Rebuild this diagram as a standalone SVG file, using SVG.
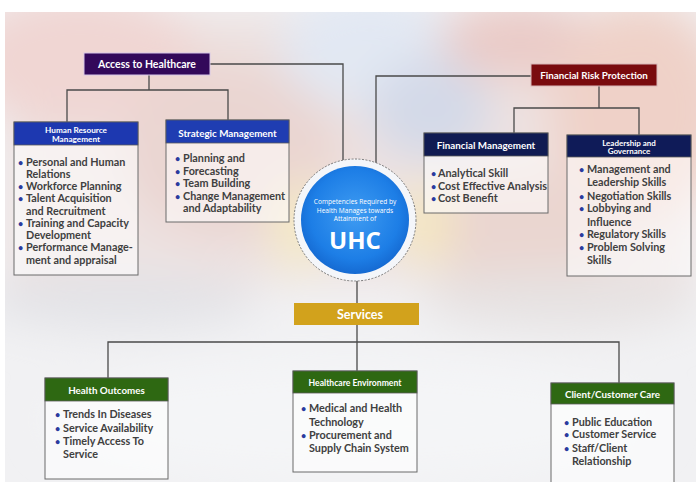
<svg xmlns="http://www.w3.org/2000/svg" width="696" height="482" viewBox="0 0 696 482">
  <defs>
    <filter id="soft" x="-20%" y="-20%" width="140%" height="140%">
      <feGaussianBlur stdDeviation="22"/>
    </filter>
    <radialGradient id="blueDisc" cx="50%" cy="45%" r="55%">
      <stop offset="0" stop-color="#3f9cf2"/>
      <stop offset="0.75" stop-color="#1d7ee6"/>
      <stop offset="1" stop-color="#156ad2"/>
    </radialGradient>
    <clipPath id="photo">
      <rect x="5" y="12" width="691" height="470"/>
    </clipPath>
    <style>
      .conn { fill: none; stroke: #4a4a4a; stroke-width: 1.3; }
      .body { fill: #ffffff; fill-opacity: 0.55; stroke: #6a6a6a; stroke-width: 1; }
      .hd { stroke: #5a5a5a; stroke-width: 0.8; }
      .ht { font-family: Lato, "Liberation Sans", sans-serif; font-weight: 700; fill: #ffffff; text-anchor: middle; }
      .it { font-family: Lato, "Liberation Sans", sans-serif; font-weight: 700; font-size: 10.8px; fill: #404040; }
      .bl { font-family: Lato, "Liberation Sans", sans-serif; font-weight: 700; font-size: 9px; fill: #2c3a9e; }
      .uhc { font-family: "Open Sans", "Liberation Sans", sans-serif; fill: #ffffff; text-anchor: middle; }
    </style>
  </defs>

  <!-- page -->
  <rect x="0" y="0" width="696" height="482" fill="#ffffff"/>

  <!-- blurred photographic backdrop -->
  <g clip-path="url(#photo)">
    <rect x="5" y="12" width="691" height="470" fill="#f1f1f3"/>
    <g filter="url(#soft)">
      <rect x="5" y="12" width="691" height="270" fill="#ede2e1"/>
      <ellipse cx="80" cy="60" rx="120" ry="70" fill="#f0d6d3"/>
      <ellipse cx="230" cy="150" rx="110" ry="90" fill="#ead5d1"/>
      <ellipse cx="370" cy="50" rx="90" ry="60" fill="#e2e8f3"/>
      <ellipse cx="430" cy="110" rx="60" ry="50" fill="#d3d9e8"/>
      <ellipse cx="520" cy="40" rx="80" ry="40" fill="#eacbc7"/>
      <ellipse cx="640" cy="110" rx="90" ry="110" fill="#efd1c8"/>
      <ellipse cx="520" cy="230" rx="90" ry="60" fill="#ead6d0"/>
      <ellipse cx="300" cy="225" rx="28" ry="45" fill="#f6ebc4"/>
      <ellipse cx="425" cy="225" rx="25" ry="40" fill="#f6e8bc"/>
      <ellipse cx="120" cy="300" rx="140" ry="30" fill="#e3e3e7"/>
      <ellipse cx="560" cy="300" rx="140" ry="30" fill="#e6e2e2"/>
      <ellipse cx="350" cy="420" rx="300" ry="60" fill="#f4f5f7"/>
    </g>
  </g>

  <!-- connectors -->
  <g id="connectors">
    <path class="conn" d="M210 64 H343 V160"/>
    <path class="conn" d="M531 76 H376 V163"/>
    <path class="conn" d="M149 75 V90 M67 122 V90 H228 V120"/>
    <path class="conn" d="M599 86 V108 M514 133 V108 H639 V135"/>
    <path class="conn" d="M357 281 V371 M108 378 V342 H619 V383"/>
  </g>

  <!-- centre hub -->
  <g id="uhc">
    <circle cx="355" cy="220" r="61" fill="#f4f6fa" stroke="#7a7a7a" stroke-width="1" stroke-dasharray="2 1.5"/>
    <circle cx="355" cy="220" r="54" fill="url(#blueDisc)"/>
    <text class="uhc" x="355" y="204" font-size="6.6">Competencies Required by</text>
    <text class="uhc" x="355" y="212.5" font-size="6.6">Health Manages towards</text>
    <text class="uhc" x="355" y="221" font-size="6.6">Attainment of</text>
    <text class="uhc" x="355" y="249" font-size="24" font-weight="700">UHC</text>
  </g>

  <!-- top-level headings -->
  <g id="access-to-healthcare">
    <rect x="84" y="53" width="126" height="22" fill="#33095a" stroke="#d8c8e8" stroke-width="1"/>
    <text class="ht" x="147" y="68" font-size="10.5">Access to Healthcare</text>
  </g>
  <g id="financial-risk-protection">
    <rect x="531" y="64" width="126" height="22" fill="#7a0b0e" stroke="#d8b8b8" stroke-width="1"/>
    <text class="ht" x="594" y="79" font-size="9.8">Financial Risk Protection</text>
  </g>
  <g id="services">
    <rect x="294" y="303" width="125" height="22" fill="#d2a21c"/>
    <text class="ht" x="360" y="319" font-size="12.5" fill="#fbf3dc">Services</text>
  </g>

  <!-- Human Resource Management -->
  <g id="human-resource-management">
    <rect class="body" x="14" y="122" width="124" height="153"/>
    <rect class="hd" x="14" y="122" width="124" height="23" fill="#1d38b0"/>
    <text class="ht" x="76" y="132.5" font-size="8.2">Human Resource</text>
    <text class="ht" x="76" y="141.5" font-size="8.2">Management</text>
    <text class="bl" x="18" y="166">•</text><text class="it" x="26" y="166">Personal and Human</text>
    <text class="it" x="26" y="178">Relations</text>
    <text class="bl" x="18" y="190">•</text><text class="it" x="26" y="190">Workforce Planning</text>
    <text class="bl" x="18" y="202">•</text><text class="it" x="26" y="202">Talent Acquisition</text>
    <text class="it" x="26" y="215">and Recruitment</text>
    <text class="bl" x="18" y="227">•</text><text class="it" x="26" y="227">Training and Capacity</text>
    <text class="it" x="26" y="239">Development</text>
    <text class="bl" x="18" y="251">•</text><text class="it" x="26" y="251">Performance Manage-</text>
    <text class="it" x="26" y="264">ment and appraisal</text>
  </g>

  <!-- Strategic Management -->
  <g id="strategic-management">
    <rect class="body" x="166" y="120" width="123" height="102"/>
    <rect class="hd" x="166" y="120" width="123" height="23" fill="#1f3db2"/>
    <text class="ht" x="227.5" y="137" font-size="9.8">Strategic Management</text>
    <text class="bl" x="175" y="162">•</text><text class="it" x="183" y="162">Planning and</text>
    <text class="bl" x="175" y="175">•</text><text class="it" x="183" y="175">Forecasting</text>
    <text class="bl" x="175" y="187">•</text><text class="it" x="183" y="187">Team Building</text>
    <text class="bl" x="175" y="200">•</text><text class="it" x="183" y="200">Change Management</text>
    <text class="it" x="183" y="212">and Adaptability</text>
  </g>

  <!-- Financial Management -->
  <g id="financial-management">
    <rect class="body" x="424" y="133" width="124" height="80"/>
    <rect class="hd" x="424" y="133" width="124" height="23" fill="#101b52"/>
    <text class="ht" x="486" y="149" font-size="9.8">Financial Management</text>
    <text class="bl" x="431" y="177">•</text><text class="it" x="438" y="177">Analytical Skill</text>
    <text class="bl" x="431" y="190">•</text><text class="it" x="438" y="190">Cost Effective Analysis</text>
    <text class="bl" x="431" y="202">•</text><text class="it" x="438" y="202">Cost Benefit</text>
  </g>

  <!-- Leadership and Governance -->
  <g id="leadership-and-governance">
    <rect class="body" x="567" y="135" width="124" height="141"/>
    <rect class="hd" x="567" y="135" width="124" height="22" fill="#0f1b58"/>
    <text class="ht" x="629" y="145.5" font-size="8">Leadership and</text>
    <text class="ht" x="629" y="154" font-size="8">Governance</text>
    <text class="bl" x="579" y="173">•</text><text class="it" x="587" y="173">Management and</text>
    <text class="it" x="587" y="186">Leadership Skills</text>
    <text class="bl" x="579" y="200">•</text><text class="it" x="587" y="200">Negotiation Skills</text>
    <text class="bl" x="579" y="212">•</text><text class="it" x="587" y="212">Lobbying and</text>
    <text class="it" x="587" y="226">Influence</text>
    <text class="bl" x="579" y="238">•</text><text class="it" x="587" y="238">Regulatory Skills</text>
    <text class="bl" x="579" y="251">•</text><text class="it" x="587" y="251">Problem Solving</text>
    <text class="it" x="587" y="264">Skills</text>
  </g>

  <!-- Health Outcomes -->
  <g id="health-outcomes">
    <rect class="body" x="45" y="378" width="123" height="101"/>
    <rect class="hd" x="45" y="378" width="123" height="23" fill="#2e6812"/>
    <text class="ht" x="106.5" y="394" font-size="9.8">Health Outcomes</text>
    <text class="bl" x="55" y="418">•</text><text class="it" x="63" y="418">Trends In Diseases</text>
    <text class="bl" x="55" y="432">•</text><text class="it" x="63" y="432">Service Availability</text>
    <text class="bl" x="55" y="445">•</text><text class="it" x="63" y="445">Timely Access To</text>
    <text class="it" x="63" y="458">Service</text>
  </g>

  <!-- Healthcare Environment -->
  <g id="healthcare-environment">
    <rect class="body" x="293" y="371" width="124" height="101"/>
    <rect class="hd" x="293" y="371" width="124" height="22" fill="#2e6812"/>
    <text class="ht" x="355" y="385.5" font-size="8.6">Healthcare Environment</text>
    <text class="bl" x="301" y="412">•</text><text class="it" x="309" y="412">Medical and Health</text>
    <text class="it" x="309" y="426">Technology</text>
    <text class="bl" x="301" y="439">•</text><text class="it" x="309" y="439">Procurement and</text>
    <text class="it" x="309" y="452">Supply Chain System</text>
  </g>

  <!-- Client/Customer Care -->
  <g id="client-customer-care">
    <rect class="body" x="551" y="383" width="123" height="104"/>
    <rect class="hd" x="551" y="383" width="123" height="21" fill="#2e6812"/>
    <text class="ht" x="612.5" y="398" font-size="9.8">Client/Customer Care</text>
    <text class="bl" x="564" y="426">•</text><text class="it" x="572" y="426">Public Education</text>
    <text class="bl" x="564" y="438">•</text><text class="it" x="572" y="438">Customer Service</text>
    <text class="bl" x="564" y="452">•</text><text class="it" x="572" y="452">Staff/Client</text>
    <text class="it" x="572" y="465">Relationship</text>
  </g>
</svg>
